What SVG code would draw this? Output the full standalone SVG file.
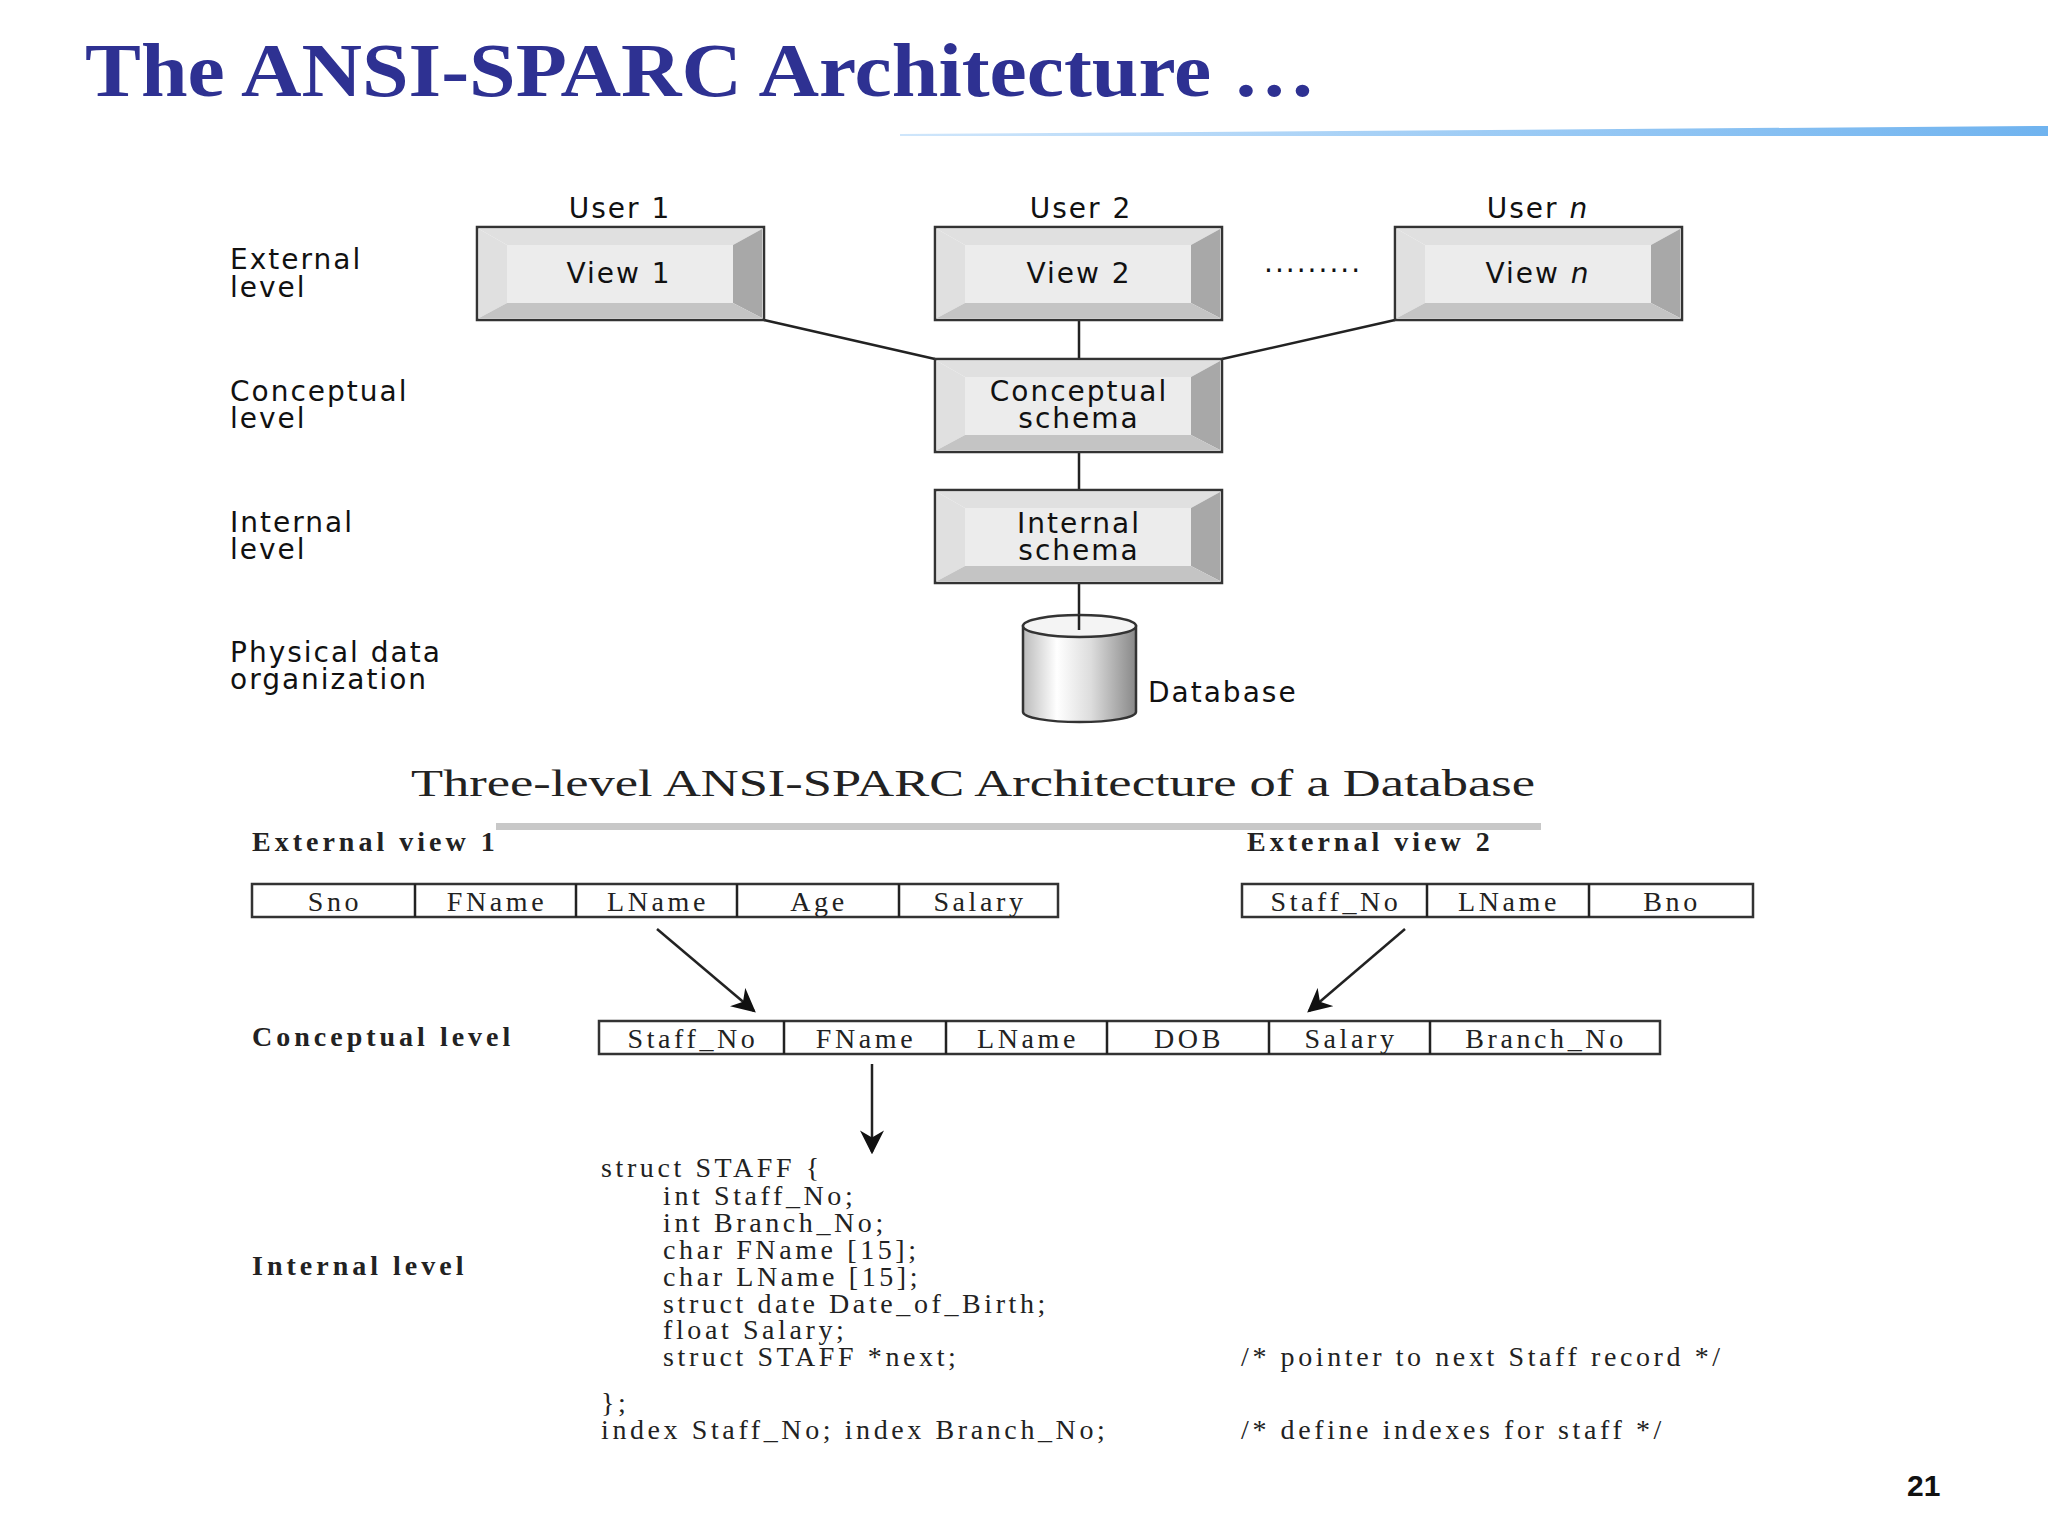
<svg xmlns="http://www.w3.org/2000/svg" width="2048" height="1534" viewBox="0 0 2048 1534">
<defs>
<style>
.s{font-family:"DejaVu Sans",Verdana,sans-serif;font-size:28px;letter-spacing:2px;fill:#111}
.c{text-anchor:middle}
.t{font-family:"Liberation Serif","Times New Roman",serif;font-size:28px;letter-spacing:3.6px;fill:#222}
.b{font-weight:bold;letter-spacing:4px}
.bx{fill:#fff;stroke:#333;stroke-width:2.5}
.ln{stroke:#222;stroke-width:2.5;fill:none}
.face{fill:#ececec}
.top{fill:#e0e0e0}
.rt{fill:#a8a8a8}
.bt{fill:#c4c4c4}
</style>
<linearGradient id="bl" x1="0" x2="1"><stop offset="0" stop-color="#cfe6fb"/><stop offset="1" stop-color="#6fb3ef"/></linearGradient>
<linearGradient id="cy" x1="0" x2="1"><stop offset="0" stop-color="#bbb"/><stop offset="0.3" stop-color="#fff"/><stop offset="0.6" stop-color="#ddd"/><stop offset="1" stop-color="#888"/></linearGradient>
<symbol id="bev" viewBox="0 0 287 93" width="287" height="93" overflow="visible">
<rect class="bx" x="0" y="0" width="287" height="93"/>
<polygon class="top" points="2,2 285,2 256,18 30,18"/>
<polygon class="top" points="2,2 30,18 30,76 2,91"/>
<polygon class="rt" points="285,2 285,91 256,76 256,18"/>
<polygon class="bt" points="2,91 285,91 256,76 30,76"/>
<rect class="face" x="30" y="18" width="226" height="58"/>
</symbol>
<marker id="ar" viewBox="0 0 10 10" refX="9" refY="5" markerWidth="24" markerHeight="24" markerUnits="userSpaceOnUse" orient="auto"><path d="M0,0 L10,5 L0,10 L3,5 z" fill="#111"/></marker>
</defs>
<rect width="2048" height="1534" fill="#fff"/>
<text x="85" y="96" font-family="Liberation Serif,serif" font-size="76" font-weight="bold" fill="#2e3192" textLength="1231" lengthAdjust="spacingAndGlyphs">The ANSI-SPARC Architecture …</text>
<polygon points="900,134 2048,126 2048,136 900,136" fill="url(#bl)"/>
<g id="labels">
<text class="s" x="230" y="269">External</text><text class="s" x="230" y="297">level</text>
<text class="s" x="230" y="401">Conceptual</text><text class="s" x="230" y="428">level</text>
<text class="s" x="230" y="532">Internal</text><text class="s" x="230" y="559">level</text>
<text class="s" x="230" y="662">Physical data</text><text class="s" x="230" y="689">organization</text>
</g>
<g id="connectors">
<line class="ln" x1="764" y1="320" x2="935" y2="359"/>
<line class="ln" x1="1079" y1="320" x2="1079" y2="359"/>
<line class="ln" x1="1395" y1="320" x2="1222" y2="359"/>
<line class="ln" x1="1079" y1="452" x2="1079" y2="490"/>
<line class="ln" x1="1079" y1="584" x2="1079" y2="625"/>
<line class="ln" stroke-width="2" x1="657" y1="929" x2="754" y2="1011" marker-end="url(#ar)"/>
<line class="ln" stroke-width="2" x1="1405" y1="929" x2="1309" y2="1011" marker-end="url(#ar)"/>
<line class="ln" stroke-width="2" x1="872" y1="1064" x2="872" y2="1152" marker-end="url(#ar)"/>
</g>
<g id="view1"><text class="s c" x="620" y="218">User 1</text><use href="#bev" x="477" y="227"/><text class="s c" x="619" y="283">View 1</text></g>
<g id="view2"><text class="s c" x="1081" y="218">User 2</text><use href="#bev" x="935" y="227"/><text class="s c" x="1079" y="283">View 2</text></g>
<text class="s" x="1264" y="272" letter-spacing="0">.........</text>
<g id="viewn"><text class="s c" x="1538" y="218">User <tspan font-style="italic">n</tspan></text><use href="#bev" x="1395" y="227"/><text class="s c" x="1538" y="283">View <tspan font-style="italic">n</tspan></text></g>
<g id="conceptual"><use href="#bev" x="935" y="359"/><text class="s c" x="1079" y="401">Conceptual</text><text class="s c" x="1079" y="428">schema</text></g>
<g id="internal"><use href="#bev" x="935" y="490"/><text class="s c" x="1079" y="533">Internal</text><text class="s c" x="1079" y="560">schema</text></g>
<g id="database">
<path d="M1023,626 L1023,712 A56,10 0 0 0 1136,712 L1136,626 Z" fill="url(#cy)" stroke="#333" stroke-width="2.5"/>
<ellipse cx="1079.5" cy="626" rx="56.5" ry="11" fill="#f4f4f4" stroke="#333" stroke-width="2.5"/>
<line class="ln" x1="1079" y1="615" x2="1079" y2="630"/>
<text class="s" x="1148" y="702">Database</text>
</g>
<text x="411" y="796" font-family="Liberation Serif,serif" font-size="37" fill="#222" textLength="1124" lengthAdjust="spacingAndGlyphs">Three-level ANSI-SPARC Architecture of a Database</text>
<rect x="496" y="823" width="1045" height="7" fill="#c8c8c8"/>
<g id="ext1">
<text class="t b" x="252" y="851">External view 1</text>
<rect class="bx" x="252" y="884" width="806" height="33" fill="none"/>
<path class="ln" stroke-width="2" d="M415,884V917M576,884V917M737,884V917M899,884V917"/>
<text class="t c" y="911"><tspan x="335">Sno</tspan><tspan x="497">FName</tspan><tspan x="658">LName</tspan><tspan x="819">Age</tspan><tspan x="980">Salary</tspan></text>
</g>
<g id="ext2">
<text class="t b" x="1247" y="851">External view 2</text>
<rect class="bx" x="1242" y="884" width="511" height="33" fill="none"/>
<path class="ln" stroke-width="2" d="M1427,884V917M1589,884V917"/>
<text class="t c" y="911"><tspan x="1336">Staff_No</tspan><tspan x="1509">LName</tspan><tspan x="1672">Bno</tspan></text>
</g>
<g id="conc">
<text class="t b" x="252" y="1046">Conceptual level</text>
<rect class="bx" x="599" y="1021" width="1061" height="33" fill="none"/>
<path class="ln" stroke-width="2" d="M784,1021V1054M946,1021V1054M1107,1021V1054M1269,1021V1054M1430,1021V1054"/>
<text class="t c" y="1048"><tspan x="693">Staff_No</tspan><tspan x="866">FName</tspan><tspan x="1028">LName</tspan><tspan x="1189">DOB</tspan><tspan x="1351">Salary</tspan><tspan x="1546">Branch_No</tspan></text>
</g>
<g id="internalcode">
<text class="t b" x="252" y="1275">Internal level</text>
<text class="t" x="601" y="1177">struct STAFF {</text>
<text class="t" x="663" y="1205">int Staff_No;</text>
<text class="t" x="663" y="1232">int Branch_No;</text>
<text class="t" x="663" y="1259">char FName [15];</text>
<text class="t" x="663" y="1286">char LName [15];</text>
<text class="t" x="663" y="1313">struct date Date_of_Birth;</text>
<text class="t" x="663" y="1339">float Salary;</text>
<text class="t" x="663" y="1366">struct STAFF *next;</text>
<text class="t" x="1241" y="1366">/* pointer to next Staff record */</text>
<text class="t" x="601" y="1412">};</text>
<text class="t" x="601" y="1439">index Staff_No; index Branch_No;</text>
<text class="t" x="1241" y="1439">/* define indexes for staff */</text>
</g>
<text x="1907" y="1496" font-family="Liberation Sans,sans-serif" font-size="30" font-weight="bold" fill="#111">21</text>
</svg>
